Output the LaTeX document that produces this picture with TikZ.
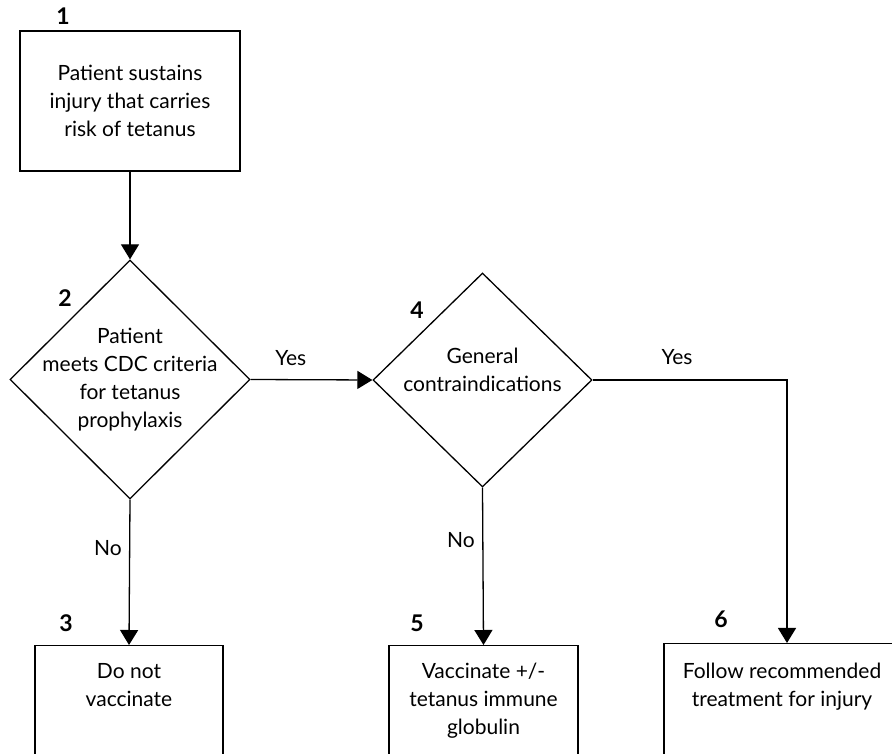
\documentclass[tikz,border=0pt]{standalone}
\usepackage{fontspec}
\setmainfont{Lato}
\usetikzlibrary{shapes.geometric,arrows.meta,positioning}

\tikzset{
  box/.style={draw, line width=1.3pt, align=center, inner sep=0pt},
  openbox/.style={box, anchor=north, inner ysep=14pt, text depth=130pt},
  decision/.style={draw, diamond, line width=1.3pt, align=center, inner xsep=-50pt, inner ysep=0pt},
  num/.style={font=\fontsize{23}{23}\selectfont\bfseries},
  flow/.style={line width=1.3pt, -{Triangle[length=15pt,width=18pt]}}
}

\begin{document}
\begin{tikzpicture}[x=1pt, y=1pt, font=\fontsize{21}{28}\selectfont]
    \useasboundingbox (0,0) rectangle (892,753);
    \clip (0,0) rectangle (892,753);

    \node[box, minimum width=220pt, minimum height=140pt] (b1) at (130,652) {Patient sustains\\injury that carries\\risk of tetanus};
    \node[decision, minimum width=240pt, minimum height=239pt] (d2) at (130,373.5) {Patient\\meets CDC criteria\\for tetanus\\prophylaxis};
    \node[decision, minimum width=219pt, minimum height=214pt, text depth=20pt] (d4) at (482.5,373) {General\\contraindications};
    \node[openbox, minimum width=188pt, text height=47pt] (b3) at (129,108) {Do not\\vaccinate};
    \node[openbox, minimum width=189pt, text height=75pt] (b5) at (483.5,108) {Vaccinate +/-\\tetanus immune\\globulin};
    \node[openbox, minimum width=236pt, text height=49pt] (b6) at (782,110) {Follow recommended\\treatment for injury};
    \coordinate (c6) at (787,373);

    \node[num] (n1) at (63,737) {1};
    \node[num] (n2) at (65,455) {2};
    \node[num] (n3) at (66,130) {3};
    \node[num] (n4) at (417,443) {4};
    \node[num] (n5) at (417,130) {5};
    \node[num] (n6) at (721,134) {6};

    \draw[flow] (b1.south) -- (d2.north);
    \draw[flow] (d2.east) -- (d4.west) node[pos=.33, above=10pt] (y1) {Yes};
    \draw[flow] (d2.south) -- (b3.north) node[pos=.33, left=4pt] (no1) {No};
    \draw[flow] (d4.south) -- (b5.north) node[pos=.33, left=4pt] (no2) {No};
    \draw[flow] (d4.east) -- (c6) -- (c6 |- b6.north);
    \node (y2) at (677,396) {Yes};
\end{tikzpicture}
\end{document}
